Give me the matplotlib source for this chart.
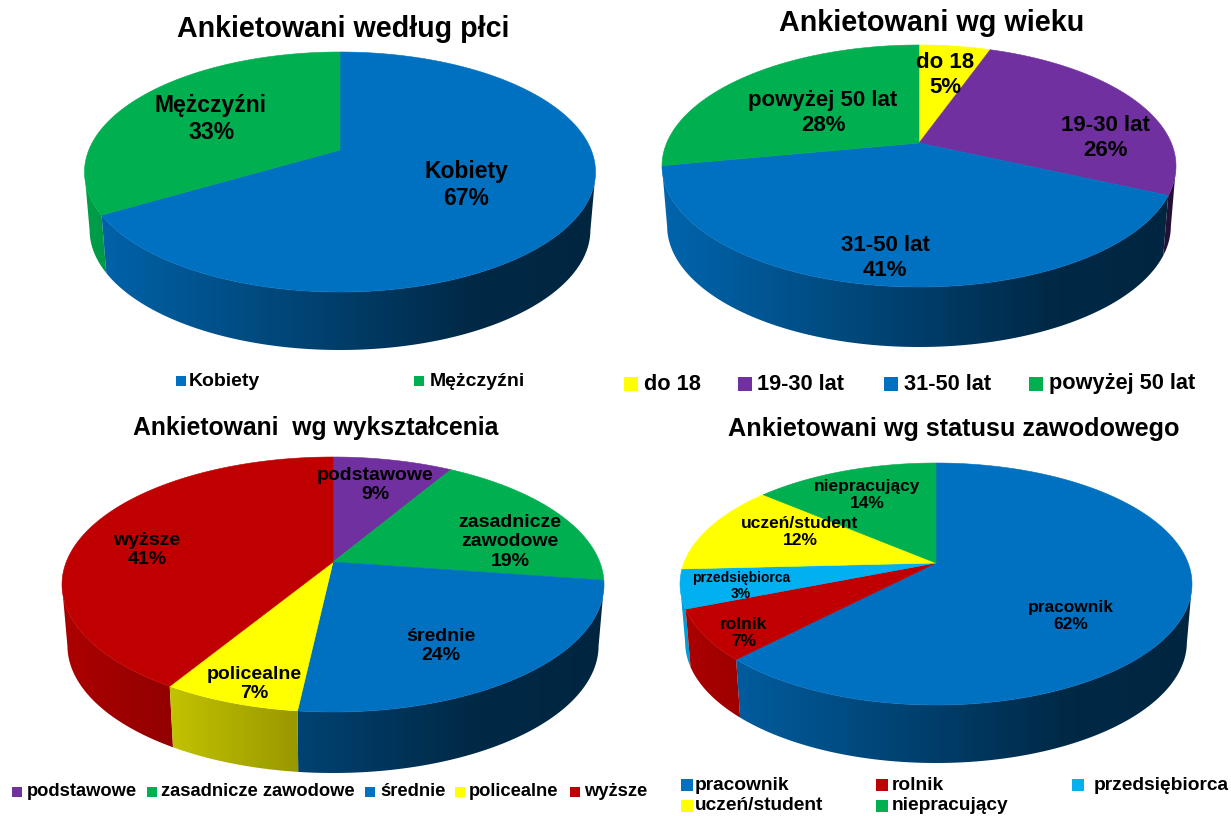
import numpy as np
import matplotlib
matplotlib.use('AGG')
import matplotlib.pyplot as plt
from matplotlib.colors import to_rgb
from matplotlib.patches import Polygon

plt.rcParams['font.family'] = ['Liberation Sans', 'DejaVu Sans']

BLUE = '#0070C0'
GREEN = '#00B050'
PURPLE = '#7030A0'
YELLOW = '#FFFF00'
RED = '#C00000'
CYAN = '#00B0F0'

# data, slice sizes (printed percents are rounded)
gender_names = ['Kobiety', 'Mężczyźni']
gender_values = [66.5, 33.5]
gender_pct = ['67%', '33%']

age_names = ['do 18', '19-30 lat', '31-50 lat', 'powyżej 50 lat']
age_values = [5.4, 26.4, 40.2, 28]
age_pct = ['5%', '26%', '41%', '28%']

edu_names = ['podstawowe', 'zasadnicze zawodowe', 'średnie', 'policealne', 'wyższe']
edu_values = [8.5, 18.8, 24.45, 6.95, 41.3]
edu_pct = ['9%', '19%', '24%', '7%', '41%']

# printed labels only add up to 98, the drawn slices are a bit different
status_names = ['pracownik', 'rolnik', 'przedsiębiorca', 'uczeń/student', 'niepracujący']
status_values = [62.2, 6.8, 5.2, 12, 13.8]
status_pct = ['62%', '7%', '3%', '12%', '14%']


# circle point -> screen, perspective makes the near half bigger
def project(theta, g, scale=1.0):
    k = (g['down'] - g['up']) / (g['down'] + g['up'])
    big = g['up'] * (1 + k)
    wide = g['rx'] * np.sqrt(1 - k * k)
    w = 1 + k * np.cos(theta)
    return g['cx'] + scale * wide * np.sin(theta) / w, g['cy'] - big * np.cos(theta) / w


def side_image(color):
    # light comes from the left of the whole pie
    f = np.interp(np.linspace(0, 1, 256), [0, 0.43, 0.75, 1], [0.9, 0.6, 0.37, 0.33])
    return np.outer(f, to_rgb(color))[None, :, :]


def draw_pie(ax, values, colors, g):
    fracs = np.array(values, dtype=float) / sum(values)
    edges = np.concatenate([[0], np.cumsum(fracs)]) * 2 * np.pi
    mid_y = g['cy'] + (g['down'] - g['up']) / 2

    # side wall first, far slices under the near ones
    order = sorted(range(len(colors)), key=lambda i: -np.cos((edges[i] + edges[i + 1]) / 2))
    for n, i in enumerate(order):
        t = np.linspace(edges[i], edges[i + 1], 300)
        x1, y1 = project(t, g)
        t = t[y1 >= mid_y]
        if len(t) < 2:
            continue
        x1, y1 = project(t, g)
        x2, y2 = project(t, g, 0.98)
        y2 = y2 + g['depth']
        pts = np.column_stack([np.concatenate([x1, x2[::-1]]), np.concatenate([y1, y2[::-1]])])
        im = ax.imshow(side_image(colors[i]), aspect='auto', zorder=1 + n * 0.01,
                       extent=(g['cx'] - g['rx'], g['cx'] + g['rx'], mid_y + g['down'] + g['depth'], mid_y - 5))
        im.set_clip_path(Polygon(pts, transform=ax.transData))

    # top face
    for i, color in enumerate(colors):
        t = np.linspace(edges[i], edges[i + 1], 300)
        x, y = project(t, g)
        xs = np.concatenate([[g['cx']], x])
        ys = np.concatenate([[g['cy']], y])
        ax.fill(xs, ys, color=color, linewidth=0.4, zorder=3)


def draw_labels(ax, names, pct, places, size):
    for name, p, place in zip(names, pct, places):
        fs = place[2] if len(place) > 2 else size
        ax.text(place[0], place[1], name + '\n' + p, ha='center', va='center', fontsize=fs,
                fontweight='bold', color='black', linespacing=1.2, zorder=5)


def draw_legend(ax, names, colors, places, size, msize):
    for name, color, place in zip(names, colors, places):
        ax.scatter([place[0]], [place[2]], marker='s', s=msize, color=color, linewidths=0, zorder=5)
        ax.text(place[1], place[2], name, ha='left', va='center', fontsize=size, fontweight='bold',
                color='black', zorder=5)


fig = plt.figure(figsize=(12.31, 8.16), dpi=100)
fig.set_facecolor('white')
ax = fig.add_axes([0, 0, 1, 1])

# Ankietowani wedlug plci
g1 = dict(cx=340, cy=150, rx=255.5, up=98, down=142, depth=58)
colors1 = [BLUE, GREEN]
draw_pie(ax, gender_values, colors1, g1)
draw_labels(ax, gender_names, gender_pct, [(466, 185), (211, 119)], 16.5)
draw_legend(ax, gender_names, colors1, [(181, 189, 381), (419, 430, 381)], 14, 60)
ax.text(343, 29, 'Ankietowani według płci', ha='center', va='center', fontsize=20.6, fontweight='bold')

# Ankietowani wg wieku
g2 = dict(cx=919, cy=143, rx=257, up=98, down=144, depth=60)
colors2 = [YELLOW, PURPLE, BLUE, GREEN]
draw_pie(ax, age_values, colors2, g2)
draw_labels(ax, age_names, age_pct, [(945, 75), (1105, 138), (885, 258), (823, 113)], 16)
draw_legend(ax, age_names, colors2, [(631, 644, 384), (745, 757, 384), (891, 904, 384), (1036, 1049, 384)], 15.7, 100)
ax.text(932, 23, 'Ankietowani wg wieku', ha='center', va='center', fontsize=20.7, fontweight='bold')

# Ankietowani wg wyksztalcenia
g3 = dict(cx=333, cy=562, rx=271, up=105, down=150, depth=61)
colors3 = [PURPLE, GREEN, BLUE, YELLOW, RED]
draw_pie(ax, edu_values, colors3, g3)
edu_inside = ['podstawowe', 'zasadnicze\nzawodowe', 'średnie', 'policealne', 'wyższe']
draw_labels(ax, edu_inside, edu_pct, [(375, 485), (510, 542), (441, 646), (254, 684), (147, 550)], 14)
draw_legend(ax, edu_names, colors3, [(17, 27, 792), (152, 161, 792), (370, 380, 792), (460, 469, 792), (575, 584, 792)], 13.2, 60)
ax.text(316, 428, 'Ankietowani  wg wykształcenia', ha='center', va='center', fontsize=17.8, fontweight='bold')

# Ankietowani wg statusu zawodowego
g4 = dict(cx=936, cy=563, rx=256, up=100, down=142, depth=58)
colors4 = [BLUE, RED, CYAN, YELLOW, GREEN]
draw_pie(ax, status_values, colors4, g4)
draw_labels(ax, status_names, status_pct,
            [(1071, 616), (744, 633), (741, 586, 10), (800, 532), (867, 495)], 12.5)
draw_legend(ax, status_names, colors4,
            [(687, 695, 785), (882, 892, 785), (1078, 1094, 785), (687, 695, 806), (882, 892, 806)], 13.8, 85)
ax.text(954, 429, 'Ankietowani wg statusu zawodowego', ha='center', va='center', fontsize=18.2, fontweight='bold')

ax.set_xlim(0, 1231)
ax.set_ylim(816, 0)
ax.axis('off')

plt.savefig('out.png', dpi=100)
